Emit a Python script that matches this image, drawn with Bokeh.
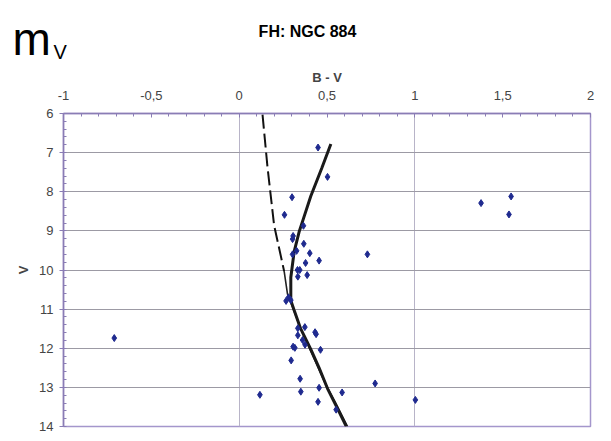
from bokeh.plotting import figure
from bokeh.models import Range1d, LinearAxis, FixedTicker
from bokeh.layouts import column
from bokeh.core.properties import value
from bokeh.embed import file_html
from bokeh.resources import INLINE

# Observed stars (B-V, V)
bv = [0.449, 0.503, 0.301, 0.258, 0.366, 0.307, 0.304, 0.368, 0.327, 0.304,
      0.402, 0.730, 0.455, 0.378, 0.332, 0.345, 0.334, 0.387, 0.267, 0.281,
      0.294, 0.334, 0.374, 0.432, 0.438, 0.334, 0.361, 0.375, 0.307, 0.317,
      0.463, 0.296, 0.347, 0.351, 0.455, 0.586, 0.774, 0.449, 0.552, 0.118,
      -0.711, 1.003, 1.377, 1.548, 1.536]
vmag = [6.87, 7.62, 8.14, 8.59, 8.87, 9.13, 9.21, 9.33, 9.51, 9.60,
        9.57, 9.60, 9.76, 9.82, 10.00, 10.00, 10.17, 10.13, 10.79, 10.70,
        10.77, 11.49, 11.46, 11.59, 11.64, 11.67, 11.79, 11.91, 11.96, 11.99,
        12.04, 12.31, 12.78, 13.11, 13.01, 13.13, 12.90, 13.37, 13.57, 13.19,
        11.74, 13.32, 8.29, 8.12, 8.58]

# ZAMS (dashed upper part, solid lower part)
zams_dash_bv = [0.133, 0.161, 0.199, 0.256]
zams_dash_v = [6.03, 7.36, 8.86, 10.03]
zams_solid_bv = [0.256, 0.275, 0.300, 0.350, 0.410, 0.490, 0.550, 0.617]
zams_solid_v = [10.03, 10.61, 10.90, 11.50, 12.10, 12.90, 13.40, 14.00]

# Fitted curve
fit_bv = [0.522, 0.470, 0.408, 0.365, 0.341, 0.313, 0.294, 0.294, 0.313,
          0.350, 0.408, 0.455, 0.503, 0.555, 0.610]
fit_v = [6.78, 7.40, 8.11, 8.70, 9.03, 9.53, 10.19, 10.78, 11.03,
         11.50, 12.03, 12.50, 13.03, 13.50, 14.00]

x_ticks = [-1, -0.5, 0, 0.5, 1, 1.5, 2]
x_tick_labels = ["-1", "-0,5", "0", "0,5", "1", "1,5", "2"]
y_ticks = [6, 7, 8, 9, 10, 11, 12, 13, 14]

FONT = "Liberation Sans"
AXIS_COL = "#8a7db5"
W = 603
TOP_H = 66

# ---- header strip (title texts) ----
head = figure(width=W, height=TOP_H, output_backend="svg", toolbar_location=None,
              x_range=Range1d(0, W), y_range=Range1d(TOP_H, 0),
              x_axis_location=None, y_axis_location=None,
              min_border_left=0, min_border_right=0, min_border_top=0,
              min_border_bottom=0)
head.frame_align = False
head.outline_line_color = None
head.grid.visible = False
head.background_fill_color = "white"
head.border_fill_color = "white"
head.text(x=[12], y=[38], text=["m"], text_font=value(FONT),
          text_font_size="46px", text_color="black",
          text_baseline="middle", text_align="left")
head.text(x=[53], y=[51], text=["V"], text_font=value(FONT),
          text_font_size="20px", text_color="black",
          text_baseline="middle", text_align="left")
head.text(x=[307], y=[31], text=["FH: NGC 884"], text_font=value(FONT),
          text_font_size="16px", text_font_style="bold", text_color="black",
          text_baseline="middle", text_align="center")

# ---- main chart ----
p = figure(width=W, height=433 - TOP_H, output_backend="svg",
           toolbar_location=None,
           x_range=Range1d(-1, 2), y_range=Range1d(14, 6),
           x_axis_location=None, y_axis_location=None,
           min_border_left=63, min_border_right=13, min_border_top=112 - TOP_H,
           min_border_bottom=7)
p.frame_align = False
p.background_fill_color = "white"
p.border_fill_color = "white"
p.outline_line_color = "#a496cc"
p.outline_line_width = 1.5

# top axis
xa = LinearAxis(ticker=FixedTicker(ticks=x_ticks,
                                   minor_ticks=[round(-1 + 0.1 * i, 2) for i in range(31)]),
                axis_label="B - V")
xa.major_label_overrides = {t: l for t, l in zip(x_ticks, x_tick_labels)}
xa.axis_label_text_font = FONT
xa.axis_label_text_font_style = "bold"
xa.axis_label_text_font_size = "13px"
xa.axis_label_standoff = 3
xa.major_label_text_font = FONT
xa.major_label_text_font_size = "13px"
xa.major_label_standoff = 14
xa.major_tick_in = 4
xa.major_tick_out = 0
xa.minor_tick_in = 3
xa.minor_tick_out = 0
xa.axis_line_color = AXIS_COL
xa.axis_line_width = 1.5
xa.major_tick_line_color = AXIS_COL
xa.minor_tick_line_color = AXIS_COL
p.add_layout(xa, "above")

# left axis
ya = LinearAxis(ticker=FixedTicker(ticks=y_ticks,
                                   minor_ticks=[round(6 + 0.2 * i, 2) for i in range(41)]),
                axis_label="V")
ya.axis_label_text_font = FONT
ya.axis_label_text_font_style = "bold"
ya.axis_label_text_font_size = "13px"
ya.axis_label_standoff = 5
ya.major_label_text_font = FONT
ya.major_label_text_font_size = "13px"
ya.major_label_standoff = 6
ya.major_tick_in = 0
ya.major_tick_out = 4
ya.minor_tick_in = 3
ya.minor_tick_out = 0
ya.axis_line_color = AXIS_COL
ya.axis_line_width = 1.5
ya.major_tick_line_color = AXIS_COL
ya.minor_tick_line_color = AXIS_COL
p.add_layout(ya, "left")

p.xgrid.ticker = FixedTicker(ticks=[0, 1])
p.xgrid.grid_line_color = "#b8b4c8"
p.xgrid.grid_line_width = 1
p.ygrid.ticker = FixedTicker(ticks=y_ticks)
p.ygrid.grid_line_color = "#9c9aa4"
p.ygrid.grid_line_width = 1

# curves
p.line(zams_dash_bv, zams_dash_v, line_color="#111111", line_width=2,
       line_dash="14 5")
p.line(zams_solid_bv, zams_solid_v, line_color="#222222", line_width=1.6)
p.line(fit_bv, fit_v, line_color="#1a1a1a", line_width=3)

# stars
p.scatter(bv, vmag, marker="diamond", size=7, fill_color="#1f2a8f",
          line_color="#1f2a8f")

layout = column(head, p, spacing=0)
open("out.html", "w").write(file_html(layout, INLINE))
